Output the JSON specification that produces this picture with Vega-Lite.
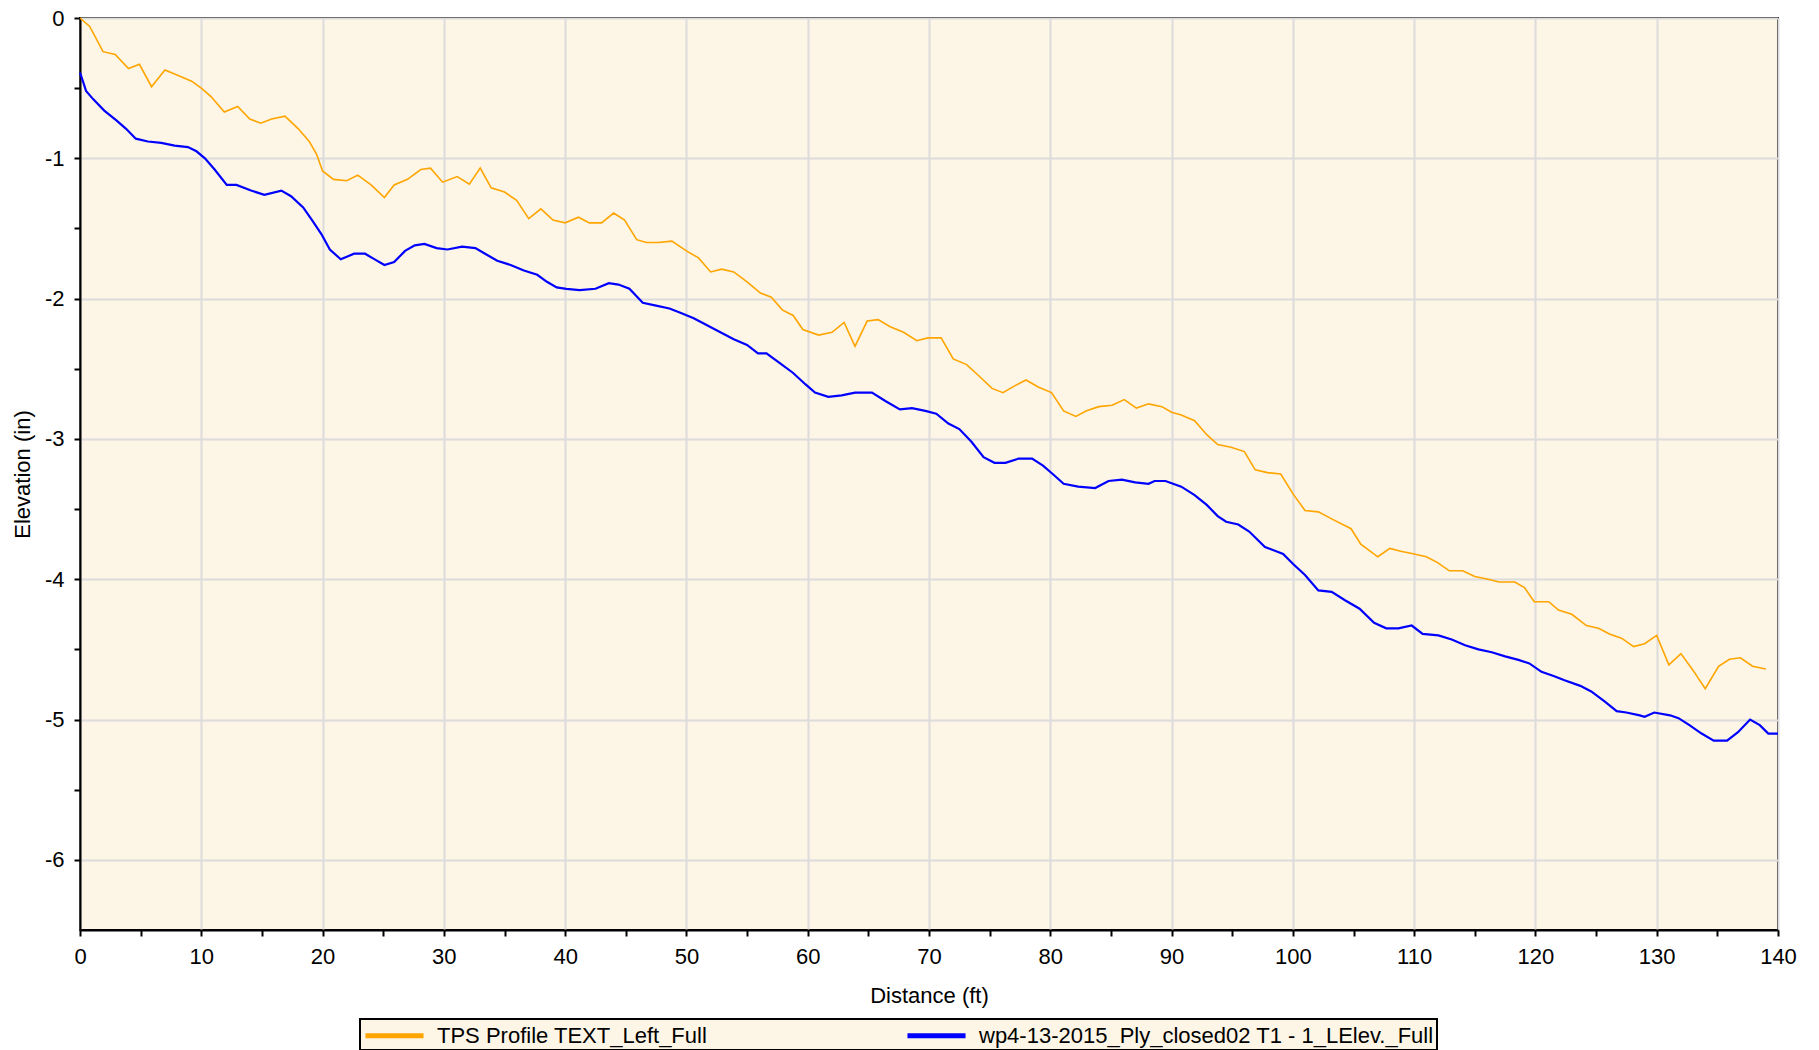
{
  "$schema": "https://vega.github.io/schema/vega-lite/v6.json",
  "width": 1698,
  "height": 912,
  "autosize": {"type": "none"},
  "padding": {"left": 80, "top": 18, "right": 41, "bottom": 120},
  "background": "white",
  "config": {
    "font": "Liberation Sans",
    "view": {"fill": "#FDF5E6", "stroke": "#000000", "strokeWidth": 2},
    "axis": {
      "domainColor": "#000000", "domainWidth": 2,
      "tickColor": "#000000", "tickWidth": 2, "tickSize": 6,
      "labelFont": "Liberation Sans", "labelFontSize": 22, "labelColor": "#000000",
      "labelFlush": false, "labelOverlap": false,
      "titleFont": "Liberation Sans", "titleFontSize": 22, "titleFontWeight": "normal", "titleColor": "#000000",
      "gridColor": "#DCDCDC", "gridWidth": 2
    }
  },
  "datasets": {
    "tps": [
      {"d":0,"e":0},{"d":0.8,"e":-0.06},{"d":1.9,"e":-0.24},{"d":2.9,"e":-0.26},{"d":4.0,"e":-0.36},{"d":4.9,"e":-0.33},{"d":5.9,"e":-0.49},{"d":7.0,"e":-0.37},{"d":8.1,"e":-0.41},{"d":9.2,"e":-0.45},
      {"d":10.0,"e":-0.50},{"d":10.8,"e":-0.56},{"d":11.9,"e":-0.67},{"d":13.0,"e":-0.63},{"d":14.0,"e":-0.72},{"d":14.9,"e":-0.75},{"d":15.8,"e":-0.72},{"d":16.9,"e":-0.70},{"d":18.0,"e":-0.79},{"d":18.9,"e":-0.88},
      {"d":19.5,"e":-0.97},{"d":20.0,"e":-1.09},{"d":20.9,"e":-1.15},{"d":22.0,"e":-1.16},{"d":22.9,"e":-1.12},{"d":24.0,"e":-1.19},{"d":25.1,"e":-1.28},{"d":25.9,"e":-1.19},{"d":27.0,"e":-1.15},{"d":28.1,"e":-1.08},
      {"d":28.9,"e":-1.07},{"d":29.9,"e":-1.17},{"d":31.1,"e":-1.13},{"d":32.1,"e":-1.185},{"d":33.0,"e":-1.07},{"d":33.9,"e":-1.21},{"d":35.0,"e":-1.24},{"d":36.0,"e":-1.30},{"d":37.0,"e":-1.43},{"d":38.0,"e":-1.36},
      {"d":39.0,"e":-1.44},{"d":40.0,"e":-1.46},{"d":41.1,"e":-1.42},{"d":42.0,"e":-1.46},{"d":43.0,"e":-1.46},{"d":44.0,"e":-1.39},{"d":44.9,"e":-1.44},{"d":45.9,"e":-1.58},{"d":46.7,"e":-1.60},{"d":47.7,"e":-1.60},
      {"d":48.8,"e":-1.59},{"d":50.0,"e":-1.66},{"d":51.0,"e":-1.71},{"d":52.0,"e":-1.81},{"d":52.9,"e":-1.79},{"d":53.9,"e":-1.81},{"d":55.0,"e":-1.88},{"d":56.1,"e":-1.96},{"d":57.0,"e":-1.99},{"d":57.9,"e":-2.08},
      {"d":58.8,"e":-2.12},{"d":59.6,"e":-2.22},{"d":60.9,"e":-2.26},{"d":62.0,"e":-2.24},{"d":63.0,"e":-2.17},{"d":63.9,"e":-2.34},{"d":64.9,"e":-2.16},{"d":65.8,"e":-2.15},{"d":66.8,"e":-2.20},{"d":67.9,"e":-2.24},
      {"d":69.0,"e":-2.30},{"d":69.9,"e":-2.28},{"d":71.0,"e":-2.28},{"d":72.0,"e":-2.43},{"d":73.1,"e":-2.47},{"d":74.1,"e":-2.55},{"d":75.2,"e":-2.64},{"d":76.1,"e":-2.67},{"d":77.1,"e":-2.62},{"d":78.0,"e":-2.58},
      {"d":79.0,"e":-2.63},{"d":80.1,"e":-2.67},{"d":81.1,"e":-2.80},{"d":82.1,"e":-2.84},{"d":83.0,"e":-2.80},{"d":84.0,"e":-2.77},{"d":85.1,"e":-2.76},{"d":86.1,"e":-2.72},{"d":87.1,"e":-2.78},{"d":88.1,"e":-2.75},
      {"d":89.2,"e":-2.77},{"d":90.0,"e":-2.81},{"d":90.8,"e":-2.83},{"d":91.9,"e":-2.87},{"d":92.9,"e":-2.97},{"d":93.8,"e":-3.04},{"d":94.9,"e":-3.06},{"d":96.0,"e":-3.09},{"d":96.9,"e":-3.22},{"d":97.9,"e":-3.24},
      {"d":99.0,"e":-3.25},{"d":100.0,"e":-3.39},{"d":101.0,"e":-3.51},{"d":102.1,"e":-3.52},{"d":103.2,"e":-3.57},{"d":104.8,"e":-3.64},{"d":105.6,"e":-3.75},{"d":107.0,"e":-3.84},{"d":108.0,"e":-3.78},{"d":108.9,"e":-3.80},
      {"d":110.0,"e":-3.82},{"d":111.0,"e":-3.84},{"d":111.9,"e":-3.88},{"d":112.9,"e":-3.94},{"d":114.0,"e":-3.94},{"d":115.0,"e":-3.98},{"d":116.1,"e":-4.00},{"d":117.0,"e":-4.02},{"d":118.3,"e":-4.02},{"d":119.1,"e":-4.06},
      {"d":119.9,"e":-4.16},{"d":121.1,"e":-4.16},{"d":121.9,"e":-4.22},{"d":123.0,"e":-4.25},{"d":124.2,"e":-4.33},{"d":125.2,"e":-4.35},{"d":126.1,"e":-4.39},{"d":127.1,"e":-4.42},{"d":128.1,"e":-4.48},{"d":129.0,"e":-4.46},
      {"d":130.0,"e":-4.40},{"d":131.0,"e":-4.61},{"d":132.0,"e":-4.53},{"d":133.0,"e":-4.65},{"d":134.0,"e":-4.78},{"d":135.1,"e":-4.62},{"d":136.0,"e":-4.57},{"d":136.9,"e":-4.56},{"d":137.9,"e":-4.62},{"d":139.0,"e":-4.64}
    ],
    "wp4": [
      {"d":0,"e":-0.39},{"d":0.2,"e":-0.44},{"d":0.5,"e":-0.52},{"d":1.1,"e":-0.58},{"d":2.0,"e":-0.66},{"d":3.0,"e":-0.73},{"d":3.8,"e":-0.79},{"d":4.6,"e":-0.86},{"d":5.6,"e":-0.88},{"d":6.7,"e":-0.89},
      {"d":7.8,"e":-0.91},{"d":8.9,"e":-0.92},{"d":9.6,"e":-0.95},{"d":10.3,"e":-1.00},{"d":11.1,"e":-1.08},{"d":12.1,"e":-1.19},{"d":12.9,"e":-1.19},{"d":14.1,"e":-1.23},{"d":15.2,"e":-1.26},{"d":16.6,"e":-1.23},
      {"d":17.4,"e":-1.27},{"d":18.4,"e":-1.35},{"d":19.2,"e":-1.45},{"d":19.9,"e":-1.54},{"d":20.6,"e":-1.65},{"d":21.5,"e":-1.72},{"d":22.6,"e":-1.68},{"d":23.5,"e":-1.68},{"d":24.3,"e":-1.72},{"d":25.1,"e":-1.76},
      {"d":25.9,"e":-1.74},{"d":26.8,"e":-1.66},{"d":27.6,"e":-1.62},{"d":28.4,"e":-1.61},{"d":29.4,"e":-1.64},{"d":30.3,"e":-1.65},{"d":31.5,"e":-1.63},{"d":32.6,"e":-1.64},{"d":33.4,"e":-1.68},{"d":34.4,"e":-1.73},
      {"d":35.5,"e":-1.76},{"d":36.6,"e":-1.80},{"d":37.7,"e":-1.83},{"d":38.5,"e":-1.88},{"d":39.3,"e":-1.92},{"d":40.1,"e":-1.93},{"d":41.2,"e":-1.94},{"d":42.5,"e":-1.93},{"d":43.6,"e":-1.89},{"d":44.4,"e":-1.90},
      {"d":45.3,"e":-1.93},{"d":46.4,"e":-2.03},{"d":47.5,"e":-2.05},{"d":48.6,"e":-2.07},{"d":49.5,"e":-2.10},{"d":50.6,"e":-2.14},{"d":51.7,"e":-2.19},{"d":52.8,"e":-2.24},{"d":53.9,"e":-2.29},{"d":55.0,"e":-2.33},
      {"d":55.9,"e":-2.39},{"d":56.6,"e":-2.39},{"d":57.7,"e":-2.46},{"d":58.8,"e":-2.53},{"d":59.8,"e":-2.61},{"d":60.6,"e":-2.67},{"d":61.7,"e":-2.70},{"d":62.8,"e":-2.69},{"d":63.9,"e":-2.67},{"d":65.3,"e":-2.67},
      {"d":66.4,"e":-2.73},{"d":67.6,"e":-2.79},{"d":68.6,"e":-2.78},{"d":69.7,"e":-2.80},{"d":70.6,"e":-2.82},{"d":71.6,"e":-2.89},{"d":72.5,"e":-2.93},{"d":73.5,"e":-3.02},{"d":74.5,"e":-3.13},{"d":75.4,"e":-3.17},
      {"d":76.3,"e":-3.17},{"d":77.4,"e":-3.14},{"d":78.5,"e":-3.14},{"d":79.4,"e":-3.19},{"d":80.2,"e":-3.25},{"d":81.1,"e":-3.32},{"d":82.3,"e":-3.34},{"d":83.7,"e":-3.35},{"d":84.8,"e":-3.30},{"d":85.9,"e":-3.29},
      {"d":87.0,"e":-3.31},{"d":88.1,"e":-3.32},{"d":88.6,"e":-3.30},{"d":89.5,"e":-3.30},{"d":90.8,"e":-3.34},{"d":91.9,"e":-3.40},{"d":92.9,"e":-3.47},{"d":93.8,"e":-3.55},{"d":94.5,"e":-3.59},{"d":95.5,"e":-3.61},
      {"d":96.4,"e":-3.66},{"d":97.7,"e":-3.77},{"d":99.2,"e":-3.82},{"d":100.0,"e":-3.89},{"d":101.0,"e":-3.97},{"d":102.1,"e":-4.08},{"d":103.2,"e":-4.09},{"d":104.3,"e":-4.15},{"d":105.5,"e":-4.21},{"d":106.7,"e":-4.31},
      {"d":107.7,"e":-4.35},{"d":108.7,"e":-4.35},{"d":109.8,"e":-4.33},{"d":110.7,"e":-4.39},{"d":112.0,"e":-4.40},{"d":113.1,"e":-4.43},{"d":114.2,"e":-4.47},{"d":115.3,"e":-4.50},{"d":116.4,"e":-4.52},{"d":117.5,"e":-4.55},
      {"d":118.6,"e":-4.575},{"d":119.5,"e":-4.60},{"d":120.5,"e":-4.66},{"d":121.5,"e":-4.69},{"d":122.4,"e":-4.72},{"d":123.7,"e":-4.76},{"d":124.6,"e":-4.80},{"d":125.7,"e":-4.87},{"d":126.7,"e":-4.94},{"d":127.5,"e":-4.95},
      {"d":128.6,"e":-4.97},{"d":129.0,"e":-4.98},{"d":129.8,"e":-4.95},{"d":131.1,"e":-4.97},{"d":131.8,"e":-4.99},{"d":132.7,"e":-5.04},{"d":133.7,"e":-5.10},{"d":134.7,"e":-5.15},{"d":135.8,"e":-5.15},{"d":136.7,"e":-5.09},
      {"d":137.7,"e":-5.00},{"d":138.5,"e":-5.04},{"d":139.2,"e":-5.10},{"d":140.0,"e":-5.10}
    ]
  },
  "encoding": {
    "x": {
      "field": "d", "type": "quantitative",
      "scale": {"domain": [0, 140], "nice": false, "zero": false},
      "axis": {
        "title": "Distance (ft)",
        "values": [0,5,10,15,20,25,30,35,40,45,50,55,60,65,70,75,80,85,90,95,100,105,110,115,120,125,130,135,140],
        "labelExpr": "datum.value % 10 == 0 ? datum.label : ''",
        "gridOpacity": {"condition": {"test": "datum.value % 10 != 0", "value": 0}, "value": 1},
        "labelPadding": 10,
        "titlePadding": 18
      }
    },
    "y": {
      "field": "e", "type": "quantitative",
      "scale": {"domain": [-6.5, 0], "nice": false, "zero": false},
      "axis": {
        "title": "Elevation (in)",
        "values": [0,-0.5,-1,-1.5,-2,-2.5,-3,-3.5,-4,-4.5,-5,-5.5,-6],
        "labelExpr": "datum.value % 1 != 0 ? '' : (datum.value < 0 ? '-' + (-datum.value) : '0')",
        "gridOpacity": {"condition": {"test": "datum.value % 1 != 0", "value": 0}, "value": 1},
        "labelPadding": 10,
        "titlePadding": 10
      }
    }
  },
  "layer": [
    {
      "data": {"name": "tps"},
      "mark": {"type": "line", "strokeWidth": 1.6, "interpolate": "linear"},
      "encoding": {
        "color": {
          "datum": "TPS Profile TEXT_Left_Full",
          "type": "nominal",
          "scale": {
            "domain": ["TPS Profile TEXT_Left_Full", "wp4-13-2015_Ply_closed02 T1 - 1_LElev._Full"],
            "range": ["#FFA500", "#0000FF"]
          },
          "legend": {
            "title": null,
            "orient": "none",
            "legendX": 280,
            "legendY": 1001,
            "direction": "horizontal",
            "columns": 2,
            "columnPadding": 189,
            "padding": 3,
            "fillColor": "#FDF5E6",
            "strokeColor": "#000000",
            "symbolType": "M-2.64,0H2.64",
            "symbolSize": 484,
            "symbolStrokeWidth": 5,
            "symbolOffset": 18,
            "labelOffset": 29,
            "labelFont": "Liberation Sans",
            "labelFontSize": 22,
            "labelColor": "#000000",
            "labelLimit": 0,
            "encode": {"legend": {"update": {"strokeWidth": {"value": 2}}}}
          }
        }
      }
    },
    {
      "data": {"name": "wp4"},
      "mark": {"type": "line", "strokeWidth": 2.2, "interpolate": "linear"},
      "encoding": {
        "color": {"datum": "wp4-13-2015_Ply_closed02 T1 - 1_LElev._Full", "type": "nominal"}
      }
    }
  ]
}
